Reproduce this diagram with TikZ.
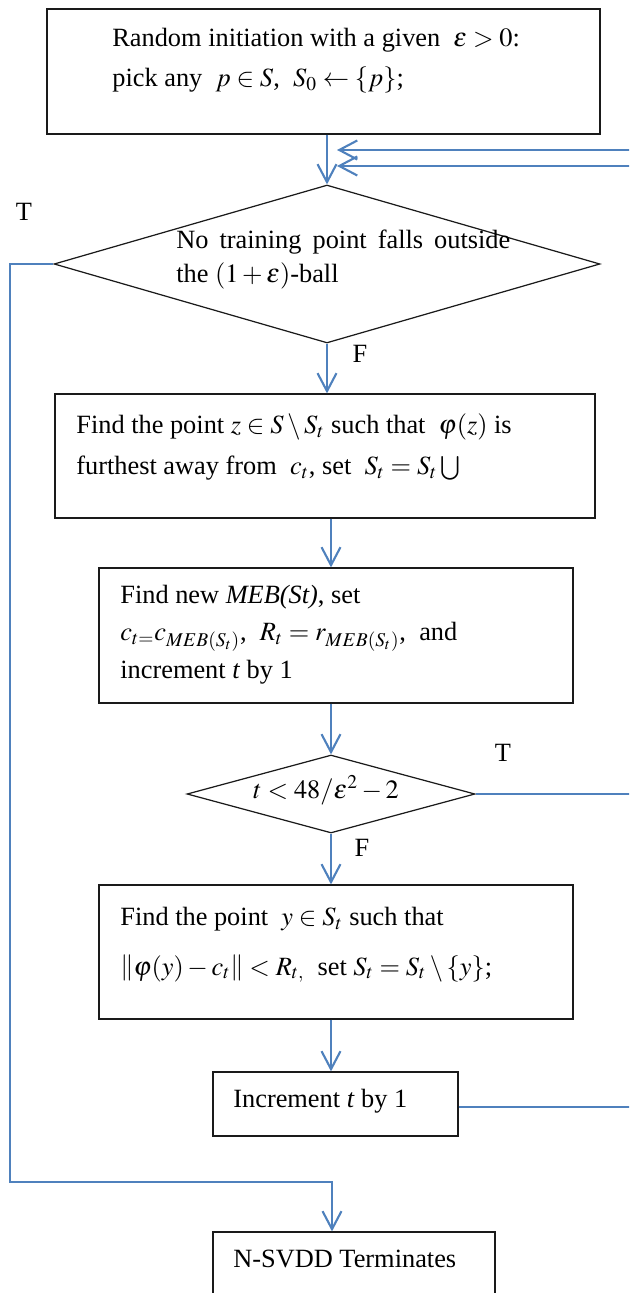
\documentclass[tikz,border=0pt]{standalone}
\usepackage{amsmath}
\usepackage{mathptmx}
\usepackage[no-math]{fontspec}
\setmainfont{Liberation Serif}
\usetikzlibrary{arrows.meta, positioning, calc, shapes.geometric}
\definecolor{FlowBlue}{RGB}{79, 129, 189}
\definecolor{BoxLine}{HTML}{1A1A1A}

\begin{document}
\begin{tikzpicture}[x=0.02cm, y=-0.02cm, >={Straight Barb[length=3.6mm, width=3.8mm]},
        box/.style={rectangle, draw=BoxLine, line width=0.7pt, inner sep=0pt},
        cond/.style={diamond, draw=BoxLine, line width=0.7pt, inner sep=0pt},
        txt/.style={anchor=base west, inner sep=0pt, align=left},
        flow/.style={->, color=FlowBlue, line width=1.2pt},
        tf/.style={inner sep=0pt, font=\fontsize{15}{18}\selectfont}]
        % Page frame (the original is cut off at the right and bottom)
        \clip (0, 0) rectangle (629, 1293);

        % Start box (text placed by the baseline of its last line)
        \node[box, minimum width=11.06cm, minimum height=2.5cm] (init) at (323.5, 71.5) {};
        \node[txt, font=\fontsize{15}{23.2}\selectfont] (initTxt) at (112, 87)
            {Random initiation with a given \ $\varepsilon>0$:\\
             pick any \ $p\in S$, \ $S_0\leftarrow\{p\}$;};

        % Stopping test
        \node[cond, minimum width=10.92cm, minimum height=3.16cm] (stopTest) at (327, 264) {};
        \node[txt, font=\fontsize{15}{19.8}\selectfont] (stopTxt) at (176, 283)
            {\makebox[6.68cm][s]{No training point falls outside}\\
             the $(1+\varepsilon)$-ball};

        % Furthest point
        \node[box, minimum width=10.8cm, minimum height=2.48cm] (furthest) at (325, 456) {};
        \node[txt, font=\fontsize{15}{23.8}\selectfont] (furthestTxt) at (76, 475)
            {Find the point $z\in S\setminus S_t$ such that \ $\varphi(z)$ is\\
             furthest away from \ $c_t$, set \ $S_t=S_t\bigcup$};

        % New MEB
        \node[box, minimum width=9.48cm, minimum height=2.7cm] (newMeb) at (336, 635.5) {};
        \node[txt, font=\fontsize{15}{21.3}\selectfont] (newMebTxt) at (120, 678)
            {Find new \textit{MEB(St)}, set\\
             $c_{t=}c_{MEB(S_t)}$, \ $R_t=r_{MEB(S_t)}$, \ and\\
             increment \textit{t} by 1};

        % Iteration test
        \node[cond, minimum width=5.76cm, minimum height=1.56cm] (iterTest) at (331, 794) {};
        \node[txt, font=\fontsize{15}{18}\selectfont] (iterTxt) at (253, 798)
            {$t<48/\varepsilon^2-2$};

        % Drop a point
        \node[box, minimum width=9.48cm, minimum height=2.68cm] (dropPt) at (336, 952) {};
        \node[txt, font=\fontsize{15}{28.3}\selectfont] (dropTxt) at (120, 975)
            {Find the point \ $y\in S_t$ such that\\
             $\left\|\varphi(y)-c_t\right\|<R_{t,}$ \ set $S_t=S_t\setminus\{y\}$;};

        % Increment
        \node[box, minimum width=4.9cm, minimum height=1.28cm] (incr) at (335.5, 1104) {};
        \node[txt, font=\fontsize{15}{18}\selectfont] (incrTxt) at (233, 1107)
            {Increment \textit{t} by 1};

        % End box
        \node[box, minimum width=5.64cm, minimum height=1.56cm] (finish) at (354, 1271) {};
        \node[txt, font=\fontsize{15}{18}\selectfont] (finishTxt) at (233, 1267)
            {N-SVDD Terminates};

        % Branch labels
        \node[tf] (stopT) at (24, 212) {T};
        \node[tf] (stopF) at (360, 354) {F};
        \node[tf] (iterT) at (503, 753) {T};
        \node[tf] (iterF) at (362, 848) {F};

        % Loose ends and bends
        \coordinate (backA) at (640, 150);
        \coordinate (backB) at (640, 166);
        \coordinate (backAin) at (337, 150);
        \coordinate (backBin) at (337, 166);
        \coordinate (iterOut) at (640, 794);
        \coordinate (incrOut) at (640, 1107);
        \coordinate (rail) at (10, 1182);
        \coordinate (merge) at (332, 1182);

        % Main line
        \draw[flow] (stopTest.north |- init.south) -- (stopTest.north);
        \draw[flow] (stopTest.south) -- (stopTest.south |- furthest.north);
        \draw[flow] (iterTest.north |- furthest.south) -- (iterTest.north |- newMeb.north);
        \draw[flow] (iterTest.north |- newMeb.south) -- (iterTest.north);
        \draw[flow] (iterTest.south) -- (iterTest.south |- dropPt.north);
        \draw[flow] (iterTest.south |- dropPt.south) -- (iterTest.south |- incr.north);

        % Loops coming back from the right
        \draw[flow] (backA) -- (backAin);
        \draw[flow] (backB) -- (backBin);
        \draw[flow, -] (iterTest.east) -- (iterOut);
        \draw[flow, -] (incr.east |- incrOut) -- (incrOut);

        % Exit on T
        \draw[flow] (stopTest.west) -| (rail) -- (merge) -- (merge |- finish.north);
\end{tikzpicture}
\end{document}
